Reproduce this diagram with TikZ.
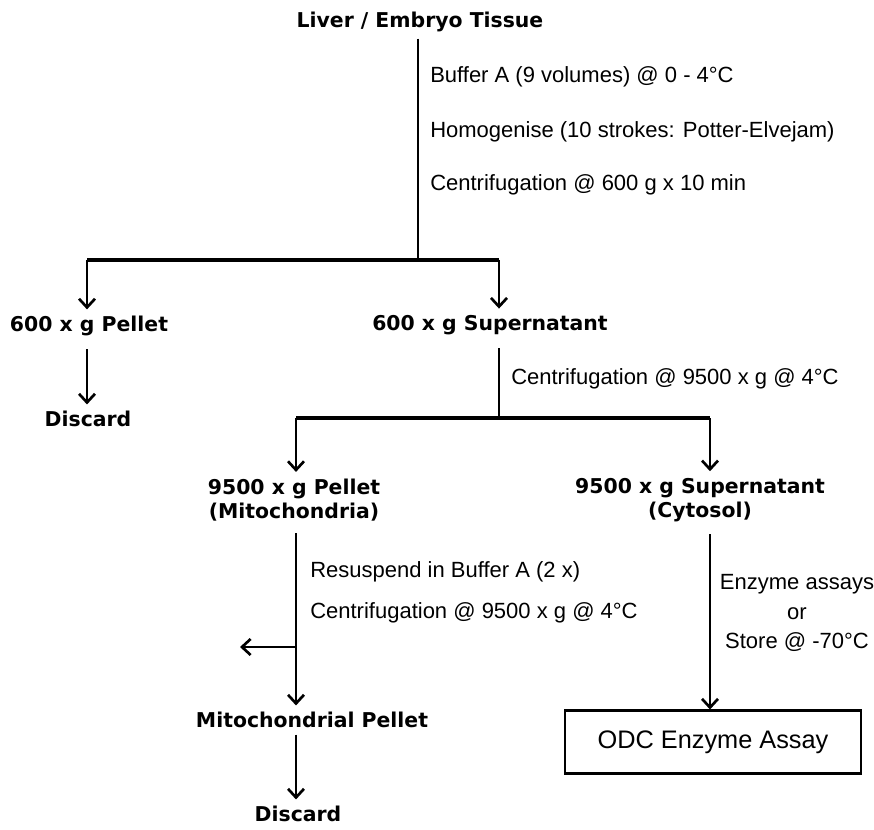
\documentclass[tikz,border=0pt]{standalone}
\usepackage{fontspec}
\setmainfont{Liberation Sans}
\newfontfamily\headfont{DejaVu Sans}
\usetikzlibrary{arrows.meta, positioning}
\tikzset{
    boldnode/.style = {draw=none, fill=none, rectangle, inner sep=0pt, outer sep=5pt, align=center,
      font=\headfont\bfseries\fontsize{15.3}{18.5}\selectfont},
    textnode/.style = {draw=none, fill=none, rectangle, inner sep=0pt, anchor=west,
      font=\fontsize{16.5}{22}\selectfont},
    boxnode/.style = {draw, rectangle, line width=1.8pt, inner sep=0pt, minimum width=222pt,
      minimum height=47pt, font=\fontsize{19}{22}\selectfont},
    plain/.style = {black, line width=2.2pt},
    bar/.style = {black, line width=2.8pt},
    connect/.style = {black, line width=2.2pt, -{Straight Barb[length=6.5pt, width=12pt, line width=2pt]}},
    every text node part/.style={align=center}
}

\begin{document}
\begin{tikzpicture}[x=0.75pt, y=-0.75pt]
    \useasboundingbox (0,0) rectangle (874,830);

    % first spin
    \node [name = Tissue, boldnode] at (420,22) {Liver / Embryo Tissue};
    \coordinate (SplitA) at (418,260);
    \coordinate (SplitAL) at (87,260);
    \coordinate (SplitAR) at (499,260);
    \node [name = BufA, textnode] at (430,77) {Buffer A (9 volumes) @ 0 - 4°C};
    \node [name = Homog, textnode] at (430,132) {Homogenise (10 strokes: Potter-Elvejam)};
    \node [name = CentA, textnode] at (430,185) {Centrifugation @ 600 g x 10 min};

    \node [name = PelletA, boldnode] at (89,326) {600 x g Pellet};
    \node [name = SuperA, boldnode] at (490,325) {600 x g Supernatant};
    \node [name = DiscardA, boldnode] at (88,419) {Discard};

    \draw [plain] (Tissue.south -| SplitA) -- (SplitA);
    \draw [bar] (SplitAL) -- (SplitAR);
    \draw [connect] (SplitAL) -- (SplitAL |- PelletA.north);
    \draw [connect] (SplitAR) -- (SplitAR |- SuperA.north);
    \draw [connect, shorten <=5pt] (PelletA.south -| SplitAL) -- (DiscardA.north -| SplitAL);

    % second spin
    \coordinate (SplitB) at (499,418);
    \coordinate (SplitBL) at (296,418);
    \coordinate (SplitBR) at (710,418);
    \node [name = CentB, textnode] at (511,379) {Centrifugation @ 9500 x g @ 4°C};

    \node [name = PelletB, boldnode] at (294,500) {9500 x g Pellet\\(Mitochondria)};
    \node [name = SuperB, boldnode] at (700,500) {9500 x g Supernatant\\(Cytosol)};

    \draw [plain, shorten <=5pt] (SuperA.south -| SplitB) -- (SplitB);
    \draw [bar] (SplitBL) -- (SplitBR);
    \draw [connect] (SplitBL) -- (SplitBL |- PelletB.north);
    \draw [connect] (SplitBR) -- (SplitBR |- SuperB.north);

    % mitochondria wash
    \node [name = Resusp, textnode] at (310,572) {Resuspend in Buffer A (2 x)};
    \node [name = CentC, textnode] at (310,613) {Centrifugation @ 9500 x g @ 4°C};
    \node [name = MitoPellet, boldnode] at (312,720) {Mitochondrial Pellet};
    \node [name = DiscardB, boldnode] at (298,814) {Discard};
    \coordinate (Wash) at (296,647);
    \coordinate (WashOut) at (240,647);

    \draw [connect, shorten <=4pt] (PelletB.south -| SplitBL) -- (MitoPellet.north -| SplitBL);
    \draw [connect] (Wash) -- (WashOut);
    \draw [connect] (MitoPellet.south -| SplitBL) -- (DiscardB.north -| SplitBL);

    % cytosol
    \node [name = Assays, textnode, anchor=center] at (797,613) {Enzyme assays\\or\\Store @ -70°C};
    \node [name = ODC, boxnode] at (713,742) {ODC Enzyme Assay};

    \draw [connect, shorten <=4pt] (SuperB.south -| SplitBR) -- (ODC.north -| SplitBR);
\end{tikzpicture}
\end{document}
